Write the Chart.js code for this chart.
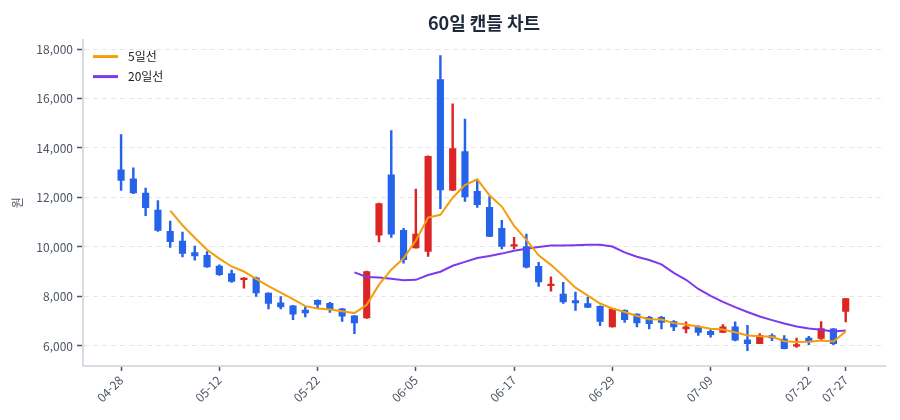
<!DOCTYPE html>
<html lang="ko">
<head>
<meta charset="utf-8">
<script src="https://cdn.jsdelivr.net/npm/chart.js@4.4.1/dist/chart.umd.min.js"></script>
<style>
  html, body { margin: 0; padding: 0; background: #fff; }
  #wrap { width: 900px; height: 420px; }
</style>
</head>
<body>
<div id="wrap"><canvas id="candleChart"></canvas></div>
<script>
// 60 trading days
const dates = [
  '04-28', '04-29', '04-30', '05-01', '05-02', '05-07', '05-08', '05-09', '05-12', '05-13',
  '05-14', '05-15', '05-16', '05-19', '05-20', '05-21', '05-22', '05-23', '05-26', '05-27',
  '05-28', '05-29', '05-30', '06-02', '06-05', '06-06', '06-09', '06-10', '06-11', '06-12',
  '06-13', '06-16', '06-17', '06-18', '06-19', '06-20', '06-23', '06-24', '06-25', '06-27',
  '06-29', '06-30', '07-01', '07-02', '07-03', '07-04', '07-07', '07-08', '07-09', '07-10',
  '07-11', '07-14', '07-15', '07-16', '07-17', '07-18', '07-22', '07-23', '07-24', '07-27'];
const opens = [
  13120, 12750, 12180, 11490, 10630, 10240, 9770, 9660, 9230, 8920,
  8680, 8750, 8140, 7740, 7620, 7450, 7840, 7720, 7500, 7220,
  7130, 10480, 12920, 10670, 9960, 9820, 16760, 12300, 13850, 12250,
  11600, 10750, 10030, 10020, 9220, 8440, 8100, 7830, 7710, 7600,
  6770, 7440, 7290, 7160, 7160, 6990, 6690, 6770, 6590, 6550,
  6770, 6250, 6090, 6420, 6280, 5990, 6320, 6300, 6690, 7400];
const highs = [
  14540, 13200, 12380, 11870, 11050, 10600, 10040, 9810, 9280, 9070,
  8760, 8780, 8150, 8000, 7640, 7600, 7860, 7760, 7520, 7230,
  9030, 11770, 14700, 10750, 12340, 13680, 17730, 15780, 15170, 12690,
  12040, 11080, 10390, 10520, 9380, 8790, 8570, 8180, 7980, 7620,
  7500, 7460, 7300, 7200, 7200, 7030, 6970, 6820, 6660, 6860,
  6970, 6830, 6500, 6490, 6420, 6320, 6390, 6990, 6700, 7920];
const lows = [
  12290, 12150, 11260, 10630, 9980, 9600, 9470, 9170, 8850, 8570,
  8340, 8000, 7500, 7500, 7060, 7170, 7530, 7360, 6990, 6500,
  7110, 10200, 10390, 9350, 9950, 9620, 11550, 12280, 11840, 11600,
  10420, 9920, 9920, 9150, 8410, 8210, 7720, 7440, 7550, 6820,
  6760, 6950, 6770, 6690, 6690, 6620, 6530, 6430, 6350, 6540,
  6200, 5810, 6090, 6210, 5880, 5940, 6050, 6250, 6050, 6970];
const closes = [
  12690, 12180, 11590, 10670, 10210, 9740, 9640, 9190, 8880, 8610,
  8720, 8140, 7720, 7580, 7280, 7330, 7680, 7500, 7200, 6930,
  9010, 11750, 10520, 9490, 10520, 13660, 12310, 13980, 12020, 11710,
  10430, 10020, 10100, 9180, 8590, 8500, 7780, 7740, 7560, 6990,
  7500, 7060, 6930, 6900, 6950, 6770, 6770, 6550, 6460, 6770,
  6230, 6090, 6430, 6320, 5890, 6050, 6160, 6700, 6090, 7910];
const ma5 = [
  null, null, null, null, 11468, 10878, 10370, 9890, 9532, 9212,
  9008, 8708, 8414, 8154, 7888, 7610, 7518, 7474, 7398, 7328,
  7664, 8478, 9082, 9540, 10258, 11188, 11300, 11992, 12498, 12736,
  12090, 11632, 10856, 10288, 9664, 9278, 8830, 8358, 8034, 7714,
  7514, 7370, 7208, 7076, 7068, 6922, 6864, 6788, 6700, 6664,
  6556, 6420, 6396, 6368, 6192, 6156, 6170, 6224, 6178, 6582];
const ma20 = [
  null, null, null, null, null, null, null, null, null, null,
  null, null, null, null, null, null, null, null, null, 8974,
  8790, 8769, 8715, 8656, 8672, 8868, 9001, 9241, 9398, 9553,
  9638, 9732, 9851, 9931, 9997, 10055, 10060, 10072, 10090, 10093,
  10018, 9783, 9604, 9474, 9296, 8951, 8674, 8303, 8025, 7778,
  7568, 7371, 7188, 7045, 6910, 6787, 6706, 6654, 6581, 6627];
const tickIdx = [0, 8, 16, 24, 32, 40, 48, 56, 59];
const yTicks = [6000, 8000, 10000, 12000, 14000, 16000, 18000];

const UP = '#dc2626';
const DOWN = '#2563eb';
const FONT = "'Noto Sans CJK KR', 'Noto Sans', sans-serif";
const candleColors = closes.map((c, i) => (c >= opens[i] ? UP : DOWN));

// legend drawn inside the plot, top-left, with line samples
const lineLegend = {
  id: 'lineLegend',
  afterDraw(chart) {
    const { ctx, chartArea } = chart;
    const lines = chart.data.datasets.filter((ds) => ds.type === 'line');
    ctx.save();
    ctx.font = `12px ${FONT}`;
    ctx.textBaseline = 'middle';
    ctx.textAlign = 'left';
    lines.forEach((ds, k) => {
      const y = chartArea.top + 17 + k * 20;
      const x = chartArea.left + 10;
      ctx.fillStyle = ds.borderColor;
      ctx.fillRect(x, y - 1.5, 25, 3);
      ctx.fillStyle = '#222';
      ctx.fillText(ds.label, x + 35, y);
    });
    ctx.restore();
  },
};

const ctx = document.getElementById('candleChart').getContext('2d');

const candleChart = new Chart(ctx, {
  type: 'bar',
  data: {
    datasets: [
      {
        type: 'line',
        label: '5일선',
        data: ma5.map((v, i) => ({ x: i, y: v })),
        borderColor: '#f59e0b',
        backgroundColor: '#f59e0b',
        borderWidth: 2,
        pointRadius: 0,
        tension: 0,
        order: 1,
      },
      {
        type: 'line',
        label: '20일선',
        data: ma20.map((v, i) => ({ x: i, y: v })),
        borderColor: '#7c3aed',
        backgroundColor: '#7c3aed',
        borderWidth: 2,
        pointRadius: 0,
        tension: 0,
        order: 2,
      },
      {
        label: 'body',
        data: opens.map((o, i) => ({ x: i, y: [o, closes[i]] })),
        backgroundColor: candleColors,
        barThickness: 6.5,
        minBarLength: 1.5,
        grouped: false,
        order: 3,
      },
      {
        label: 'wick',
        data: lows.map((l, i) => ({ x: i, y: [l, highs[i]] })),
        backgroundColor: candleColors,
        barThickness: 1.8,
        grouped: false,
        order: 4,
      },
    ],
  },
  options: {
    responsive: true,
    maintainAspectRatio: false,
    animation: false,
    layout: { padding: { left: 8, right: 15, top: 0, bottom: 0 } },
    plugins: {
      title: {
        display: true,
        text: '60일 캔들 차트',
        fullSize: false,
        color: '#1e293b',
        font: { family: FONT, size: 18, weight: 'bold' },
        padding: { top: 12, bottom: 6 },
      },
      legend: { display: false },
      tooltip: { enabled: false },
    },
    scales: {
      x: {
        type: 'linear',
        offset: false,
        min: -3.1,
        max: 62.2,
        afterFit: (scale) => { scale.height = 54; },
        afterBuildTicks: (scale) => { scale.ticks = tickIdx.map((v) => ({ value: v })); },
        grid: {
          offset: false,
          drawOnChartArea: false,
          drawTicks: true,
          tickLength: 5,
          tickColor: '#4b5563',
          tickWidth: 1.5,
        },
        border: { display: true, color: '#d9dde3', width: 2 },
        ticks: {
          autoSkip: false,
          maxRotation: 45,
          minRotation: 45,
          padding: 2,
          color: '#4b5563',
          font: { family: FONT, size: 12 },
          callback: (v) => dates[v],
        },
      },
      y: {
        min: 5190,
        max: 18380,
        afterFit: (scale) => { scale.width = 75; },
        afterBuildTicks: (scale) => { scale.ticks = yTicks.map((v) => ({ value: v })); },
        title: {
          display: true,
          text: '원',
          color: '#4b5563',
          font: { family: FONT, size: 12 },
          padding: { top: 2, bottom: 2 },
        },
        grid: {
          color: '#e5e7eb',
          tickColor: '#4b5563',
          tickLength: 6,
          tickWidth: 1.5,
          tickBorderDash: [],
        },
        border: { display: true, color: '#d9dde3', width: 2, dash: [5, 4] },
        ticks: {
          padding: 4,
          color: '#4b5563',
          font: { family: FONT, size: 12 },
          callback: (v) => v.toLocaleString('en-US'),
        },
      },
    },
  },
  plugins: [lineLegend],
});
</script>
</body>
</html>
